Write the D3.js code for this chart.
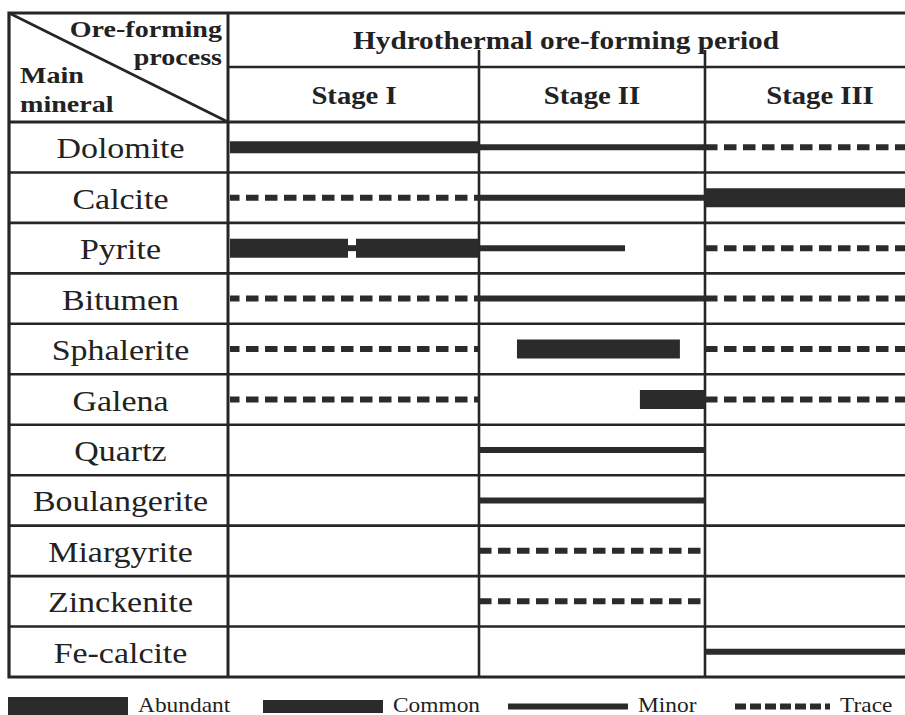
<!DOCTYPE html>
<html>
<head>
<meta charset="utf-8">
<script src="https://cdn.jsdelivr.net/npm/d3@7/dist/d3.min.js"></script>
<style>
  body { margin: 0; background: #fff; }
  svg { display: block; }
  text { font-family: "Liberation Serif", "Times New Roman", serif; fill: #222; }
</style>
</head>
<body>
<svg id="chart"></svg>
<script>
const minerals = [
  "Dolomite", "Calcite", "Pyrite", "Bitumen", "Sphalerite", "Galena",
  "Quartz", "Boulangerite", "Miargyrite", "Zinckenite", "Fe-calcite"
];
const stages = ["Stage I", "Stage II", "Stage III"];
const levels = ["Abundant", "Common", "Minor", "Trace"];

// [mineral, from, to, level] -- from/to in stage units (0 = start of Stage I, 3 = end of Stage III)
const segments = [
  ["Dolomite", 0, 1, "Common"],
  ["Dolomite", 1, 2, "Minor"],
  ["Dolomite", 2, 3, "Trace"],
  ["Calcite", 0, 1, "Trace"],
  ["Calcite", 1, 2, "Minor"],
  ["Calcite", 2, 3, "Abundant"],
  ["Pyrite", 0, 0.476, "Abundant"],
  ["Pyrite", 0.476, 0.508, "Minor"],
  ["Pyrite", 0.508, 1, "Abundant"],
  ["Pyrite", 1, 1.646, "Minor"],
  ["Pyrite", 2, 3, "Trace"],
  ["Bitumen", 0, 1, "Trace"],
  ["Bitumen", 1, 2, "Minor"],
  ["Bitumen", 2, 3, "Trace"],
  ["Sphalerite", 0, 1, "Trace"],
  ["Sphalerite", 1.168, 1.889, "Abundant"],
  ["Sphalerite", 2, 3, "Trace"],
  ["Galena", 0, 1, "Trace"],
  ["Galena", 1.712, 2, "Abundant"],
  ["Galena", 2, 3, "Trace"],
  ["Quartz", 1, 2, "Minor"],
  ["Boulangerite", 1, 2, "Minor"],
  ["Miargyrite", 1, 2, "Trace"],
  ["Zinckenite", 1, 2, "Trace"],
  ["Fe-calcite", 2, 3, "Minor"]
];

const w = 905;
const h = 715;
const ink = "#262626";
const stretch = 1.17; // the original lettering is drawn a little wide

const svg = d3.select("#chart").attr("width", w).attr("height", h);
svg.append("rect").attr("width", w).attr("height", h).attr("fill", "#fff");

const frameLeft = 9;
const colX = 228;
const frameTop = 13;
const headMid = 67;
const headBottom = 122;
const frameBottom = 677;

const x = d3.scaleLinear().domain([0, 1, 2, 3]).range([229, 479, 705, 935]);
const y = d3.scaleBand().domain(minerals).range([headBottom, frameBottom]);
const thick = d3.scaleOrdinal().domain(levels).range([19, 12, 6, 6]);

/*------------------------- grid -------------------------*/
const grid = svg.append("g").attr("stroke", ink).attr("fill", "none");

grid.selectAll("line.row")
  .data(minerals.slice(1))
  .enter()
  .append("line")
  .attr("class", "row")
  .attr("x1", frameLeft)
  .attr("x2", x(3))
  .attr("y1", (d) => y(d))
  .attr("y2", (d) => y(d))
  .attr("stroke-width", 2.6);

grid.append("line")
  .attr("x1", colX).attr("x2", x(3))
  .attr("y1", headMid).attr("y2", headMid)
  .attr("stroke-width", 2.6);
grid.append("line")
  .attr("x1", frameLeft).attr("x2", x(3))
  .attr("y1", headBottom).attr("y2", headBottom)
  .attr("stroke-width", 3);

// stage dividers start inside the top header row
grid.selectAll("line.stage")
  .data([1, 2])
  .enter()
  .append("line")
  .attr("class", "stage")
  .attr("x1", (d) => x(d))
  .attr("x2", (d) => x(d))
  .attr("y1", 50)
  .attr("y2", frameBottom)
  .attr("stroke-width", 2.6);

grid.append("line")
  .attr("x1", colX).attr("x2", colX)
  .attr("y1", frameTop).attr("y2", frameBottom)
  .attr("stroke-width", 3);

// outer frame (right side runs off the picture)
grid.append("path")
  .attr("d", `M${x(3)},${frameTop}H${frameLeft}V${frameBottom}H${x(3)}`)
  .attr("stroke-width", 3.2);

grid.append("line")
  .attr("x1", frameLeft).attr("y1", frameTop)
  .attr("x2", colX).attr("y2", headBottom)
  .attr("stroke-width", 2.6);

/*------------------------- header text -------------------------*/
function stretchedText(g, tx, ty, str, anchor, size, weight) {
  g.append("text")
    .attr("transform", `translate(${tx},${ty}) scale(${stretch},1)`)
    .attr("text-anchor", anchor)
    .attr("font-size", size)
    .attr("font-weight", weight)
    .text(str);
}

const head = svg.append("g");
stretchedText(head, 222, 37, "Ore-forming", "end", 24, "bold");
stretchedText(head, 222, 65, "process", "end", 24, "bold");
stretchedText(head, 20, 83, "Main", "start", 24, "bold");
stretchedText(head, 20, 112, "mineral", "start", 24, "bold");
stretchedText(head, 566, 49, "Hydrothermal ore-forming period", "middle", 25, "bold");

stages.forEach(function (s, i) {
  stretchedText(head, x(i + 0.5), 104, s, "middle", 24.5, "bold");
});

/*------------------------- mineral names -------------------------*/
svg.append("g")
  .selectAll("text")
  .data(minerals)
  .enter()
  .append("text")
  .attr("transform", (d) => `translate(${(frameLeft + colX) / 2 + 2},${y(d) + y.bandwidth() / 2 + 11}) scale(${stretch},1)`)
  .attr("text-anchor", "middle")
  .attr("font-size", 29)
  .text((d) => d);

/*------------------------- occurrence bars -------------------------*/
svg.append("g")
  .selectAll("line")
  .data(segments)
  .enter()
  .append("line")
  .attr("x1", (d) => x(d[1]) + (d[1] === 0 ? 1 : 0))
  .attr("x2", (d) => x(d[2]))
  .attr("y1", (d) => y(d[0]) + y.bandwidth() / 2)
  .attr("y2", (d) => y(d[0]) + y.bandwidth() / 2)
  .attr("stroke", "#2b2b2b")
  .attr("stroke-width", (d) => thick(d[3]))
  .attr("stroke-dasharray", (d) => (d[3] === "Trace" ? "12.5,6.5" : null))
  .attr("stroke-dashoffset", (d) => (d[3] === "Trace" && d[1] === 0 ? 3 : 0));

/*------------------------- legend -------------------------*/
const legendBar = d3.scaleOrdinal().domain(levels).range([[8, 128], [263, 383], [508, 628], [735, 830]]);
const legendY = 706.5;

const legend = svg.append("g");
legend.selectAll("line")
  .data(levels)
  .enter()
  .append("line")
  .attr("x1", (d) => legendBar(d)[0])
  .attr("x2", (d) => legendBar(d)[1])
  .attr("y1", legendY)
  .attr("y2", legendY)
  .attr("stroke", "#2b2b2b")
  .attr("stroke-width", (d) => (d === "Abundant" ? 19 : d === "Common" ? 13 : 6))
  .attr("stroke-dasharray", (d) => (d === "Trace" ? "11,4" : null));

legend.selectAll("text")
  .data(levels)
  .enter()
  .append("text")
  .attr("transform", (d) => `translate(${legendBar(d)[1] + 10},${legendY + 5}) scale(${stretch},1)`)
  .attr("font-size", 20)
  .text((d) => d);
</script>
</body>
</html>
